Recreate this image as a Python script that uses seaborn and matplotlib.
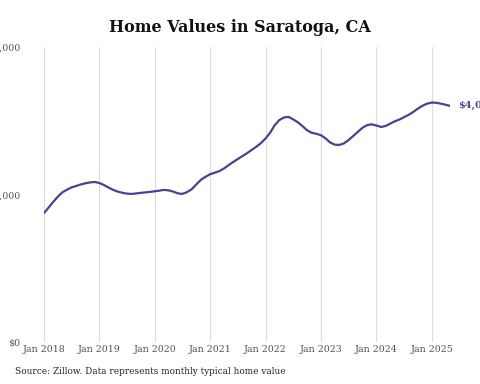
import pandas as pd
import matplotlib.pyplot as plt
import matplotlib.dates as mdates
from matplotlib.ticker import FuncFormatter
import seaborn as sns

# monthly typical home value, thousands of dollars, Jan 2018 - May 2025
values = [2186, 2280, 2370, 2460, 2535, 2580, 2620, 2645, 2670, 2690, 2705, 2712,
          2695, 2660, 2620, 2580, 2550, 2530, 2515, 2510, 2518, 2528, 2536, 2544,
          2555, 2565, 2578, 2570, 2550, 2520, 2510, 2540, 2590, 2670, 2750, 2800,
          2845, 2870, 2895, 2940, 2995, 3050, 3100, 3150, 3200, 3255, 3310, 3370,
          3450, 3550, 3670, 3760, 3805, 3815, 3775, 3725, 3660, 3590, 3545, 3530,
          3505, 3450, 3385, 3345, 3340, 3365, 3420, 3490, 3560, 3630, 3675, 3690,
          3670, 3645, 3660, 3700, 3740, 3770, 3810, 3850, 3900, 3955, 4005, 4040,
          4058, 4055, 4040, 4022, 4002]
dates = pd.date_range('2018-01-01', periods=len(values), freq='MS')
year_ticks = pd.to_datetime(['2018-01-01', '2019-01-01', '2020-01-01', '2021-01-01',
                             '2022-01-01', '2023-01-01', '2024-01-01', '2025-01-01'])
y_ticks = [0, 2500000, 5000000]

df = pd.DataFrame({'date': dates, 'value': [v * 1000 for v in values]})

sns.set_style('white')
plt.rcParams['font.family'] = ['DejaVu Serif']
line_color = '#4b4192'

fig = plt.figure(figsize=(4.8, 3.84), dpi=100)
ax = fig.add_axes([44/480, 1-342/384, (450-44)/480, (342-47)/384])
sns.lineplot(data=df, x='date', y='value', color=line_color, linewidth=1.6, ax=ax)

ax.set_xlim(dates[0], dates[-1])
ax.set_ylim(0, 5000000)
ax.set_xticks(year_ticks)
ax.xaxis.set_major_formatter(mdates.DateFormatter('%b %Y'))
ax.set_yticks(y_ticks)
ax.yaxis.set_major_formatter(FuncFormatter(lambda v, p: '${:,.0f}'.format(v)))
ax.grid(axis='x', color='#dddddd', linewidth=0.8)
ax.grid(axis='y', visible=False)
for s in ax.spines.values():
    s.set_visible(False)
ax.tick_params(axis='x', length=0, pad=2, labelsize=6.8, labelcolor='#555555')
ax.tick_params(axis='y', length=0, pad=17, labelsize=6.8, labelcolor='#555555')
ax.set_xlabel('')
ax.set_ylabel('')

last = df['value'].iloc[-1]
ax.annotate('${:,.0f}'.format(last), xy=(dates[-1], last), xytext=(6, 0),
            textcoords='offset points', va='center', ha='left',
            fontsize=7, fontweight='bold', color=line_color, annotation_clip=False)

fig.text(0.5, 1-27/384, 'Home Values in Saratoga, CA', ha='center', va='center',
         fontsize=11.5, fontweight='bold', color='#111111')
fig.text(15/480, 1-372/384, 'Source: Zillow. Data represents monthly typical home value',
         ha='left', va='center', fontsize=6.4, color='#222222')

fig.savefig('out.png', dpi=100)
